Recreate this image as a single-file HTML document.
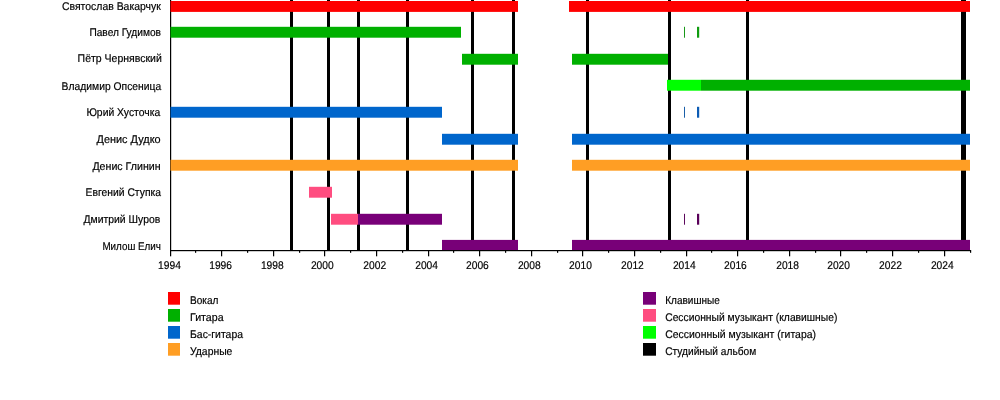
<!DOCTYPE html>
<html lang="ru"><head><meta charset="utf-8"><title>Timeline</title>
<style>html,body{margin:0;padding:0;background:#fff}body{width:1000px;height:400px;overflow:hidden}svg{display:block}text{stroke:#000;stroke-width:0.18px;text-rendering:geometricPrecision;font-family:"Liberation Sans",Arial,Helvetica,sans-serif;fill:#000}</style></head><body>
<svg width="1000" height="400" viewBox="0 0 1000 400">
<rect width="1000" height="400" fill="#fff"/>
<g fill="#000">
<rect x="290" y="0" width="3" height="250.5"/>
<rect x="327" y="0" width="3" height="250.5"/>
<rect x="357" y="0" width="3" height="250.5"/>
<rect x="406" y="0" width="3" height="250.5"/>
<rect x="471" y="0" width="3" height="250.5"/>
<rect x="512" y="0" width="3" height="250.5"/>
<rect x="586" y="0" width="3" height="250.5"/>
<rect x="668" y="0" width="3" height="250.5"/>
<rect x="746" y="0" width="3" height="250.5"/>
<rect x="961" y="0" width="5" height="250.5"/>
<rect x="170" y="0" width="1.2" height="251"/>
</g>
<rect x="170.5" y="1.00" width="347.5" height="10.9" fill="#ff0000"/>
<rect x="569" y="1.00" width="401" height="10.9" fill="#ff0000"/>
<rect x="170.5" y="26.80" width="290.5" height="10.9" fill="#00b000"/>
<rect x="462" y="53.80" width="56" height="10.9" fill="#00b000"/>
<rect x="572" y="53.80" width="96" height="10.9" fill="#00b000"/>
<rect x="667" y="79.80" width="34" height="10.9" fill="#00ff00"/>
<rect x="701" y="79.80" width="269" height="10.9" fill="#00b000"/>
<rect x="170.5" y="106.80" width="271.5" height="10.9" fill="#0066cc"/>
<rect x="442" y="133.80" width="76" height="10.9" fill="#0066cc"/>
<rect x="572" y="133.80" width="398" height="10.9" fill="#0066cc"/>
<rect x="170.5" y="159.80" width="347.5" height="10.9" fill="#ff9e24"/>
<rect x="572" y="159.80" width="398" height="10.9" fill="#ff9e24"/>
<rect x="309" y="186.80" width="23" height="10.9" fill="#ff4d80"/>
<rect x="331" y="213.80" width="27" height="10.9" fill="#ff4d80"/>
<rect x="358" y="213.80" width="84" height="10.9" fill="#780078"/>
<rect x="442" y="239.90" width="76" height="10.9" fill="#780078"/>
<rect x="572" y="239.90" width="398" height="10.9" fill="#780078"/>
<rect x="684" y="26.80" width="1" height="10.9" fill="#189818"/>
<rect x="697" y="26.80" width="2.2" height="10.9" fill="#109c10"/>
<rect x="684" y="106.80" width="1" height="10.9" fill="#1a5fa8"/>
<rect x="697" y="106.80" width="2.2" height="10.9" fill="#0c5cb4"/>
<rect x="684" y="213.80" width="1" height="10.9" fill="#5c085c"/>
<rect x="697" y="213.80" width="2.2" height="10.9" fill="#5a005a"/>
<g fill="#000">
<rect x="170" y="250" width="801" height="1.2"/>
<rect x="170.00" y="250" width="1.2" height="6.3"/>
<rect x="195.00" y="250" width="1.2" height="2.8"/>
<rect x="221.00" y="250" width="1.2" height="6.3"/>
<rect x="247.00" y="250" width="1.2" height="2.8"/>
<rect x="273.00" y="250" width="1.2" height="6.3"/>
<rect x="299.00" y="250" width="1.2" height="2.8"/>
<rect x="324.00" y="250" width="1.2" height="6.3"/>
<rect x="350.00" y="250" width="1.2" height="2.8"/>
<rect x="376.00" y="250" width="1.2" height="6.3"/>
<rect x="402.00" y="250" width="1.2" height="2.8"/>
<rect x="428.00" y="250" width="1.2" height="6.3"/>
<rect x="453.00" y="250" width="1.2" height="2.8"/>
<rect x="479.00" y="250" width="1.2" height="6.3"/>
<rect x="505.00" y="250" width="1.2" height="2.8"/>
<rect x="531.00" y="250" width="1.2" height="6.3"/>
<rect x="557.00" y="250" width="1.2" height="2.8"/>
<rect x="582.00" y="250" width="1.2" height="6.3"/>
<rect x="608.00" y="250" width="1.2" height="2.8"/>
<rect x="634.00" y="250" width="1.2" height="6.3"/>
<rect x="660.00" y="250" width="1.2" height="2.8"/>
<rect x="686.00" y="250" width="1.2" height="6.3"/>
<rect x="711.00" y="250" width="1.2" height="2.8"/>
<rect x="737.00" y="250" width="1.2" height="6.3"/>
<rect x="763.00" y="250" width="1.2" height="2.8"/>
<rect x="789.00" y="250" width="1.2" height="6.3"/>
<rect x="815.00" y="250" width="1.2" height="2.8"/>
<rect x="840.00" y="250" width="1.2" height="6.3"/>
<rect x="866.00" y="250" width="1.2" height="2.8"/>
<rect x="892.00" y="250" width="1.2" height="6.3"/>
<rect x="918.00" y="250" width="1.2" height="2.8"/>
<rect x="944.00" y="250" width="1.2" height="6.3"/>
<rect x="970.00" y="250" width="1.2" height="2.8"/>
</g>
<g font-size="11.2">
<text x="62.0" y="10.10" textLength="98.8" lengthAdjust="spacingAndGlyphs">Святослав Вакарчук</text>
<text x="89.4" y="36.10" textLength="71.6" lengthAdjust="spacingAndGlyphs">Павел Гудимов</text>
<text x="77.6" y="62.30" textLength="84.2" lengthAdjust="spacingAndGlyphs">Пётр Чернявский</text>
<text x="61.6" y="89.60" textLength="99.6" lengthAdjust="spacingAndGlyphs">Владимир Опсеница</text>
<text x="86.4" y="115.70" textLength="73.8" lengthAdjust="spacingAndGlyphs">Юрий Хусточка</text>
<text x="96.6" y="143.00" textLength="64.0" lengthAdjust="spacingAndGlyphs">Денис Дудко</text>
<text x="92.4" y="170.00" textLength="68.2" lengthAdjust="spacingAndGlyphs">Денис Глинин</text>
<text x="85.6" y="195.60" textLength="75.4" lengthAdjust="spacingAndGlyphs">Евгений Ступка</text>
<text x="83.6" y="222.50" textLength="76.6" lengthAdjust="spacingAndGlyphs">Дмитрий Шуров</text>
<text x="102.4" y="249.80" textLength="58.6" lengthAdjust="spacingAndGlyphs">Милош Елич</text>
</g>
<g font-size="11.2" text-anchor="middle" style="stroke-width:0.28px">
<text x="169.5" y="269" textLength="22.8" lengthAdjust="spacingAndGlyphs">1994</text>
<text x="220.6" y="269" textLength="22.8" lengthAdjust="spacingAndGlyphs">1996</text>
<text x="272.3" y="269" textLength="22.8" lengthAdjust="spacingAndGlyphs">1998</text>
<text x="322.3" y="269" textLength="22.8" lengthAdjust="spacingAndGlyphs">2000</text>
<text x="374.7" y="269" textLength="22.8" lengthAdjust="spacingAndGlyphs">2002</text>
<text x="426.6" y="269" textLength="22.8" lengthAdjust="spacingAndGlyphs">2004</text>
<text x="477.4" y="269" textLength="22.8" lengthAdjust="spacingAndGlyphs">2006</text>
<text x="529.3" y="269" textLength="22.8" lengthAdjust="spacingAndGlyphs">2008</text>
<text x="580.5" y="269" textLength="22.8" lengthAdjust="spacingAndGlyphs">2010</text>
<text x="632.4" y="269" textLength="22.8" lengthAdjust="spacingAndGlyphs">2012</text>
<text x="684.3" y="269" textLength="22.8" lengthAdjust="spacingAndGlyphs">2014</text>
<text x="735.4" y="269" textLength="22.8" lengthAdjust="spacingAndGlyphs">2016</text>
<text x="787.6" y="269" textLength="22.8" lengthAdjust="spacingAndGlyphs">2018</text>
<text x="838.6" y="269" textLength="22.8" lengthAdjust="spacingAndGlyphs">2020</text>
<text x="890.5" y="269" textLength="22.8" lengthAdjust="spacingAndGlyphs">2022</text>
<text x="942.3" y="269" textLength="22.8" lengthAdjust="spacingAndGlyphs">2024</text>
</g>
<g font-size="11.2">
<rect x="168" y="292" width="12" height="12.7" fill="#ff0000"/><text x="190" y="304" textLength="28.4" lengthAdjust="spacingAndGlyphs">Вокал</text>
<rect x="168" y="309" width="12" height="12.7" fill="#00b000"/><text x="190" y="321" textLength="33.6" lengthAdjust="spacingAndGlyphs">Гитара</text>
<rect x="168" y="326" width="12" height="12.7" fill="#0066cc"/><text x="190" y="338" textLength="53" lengthAdjust="spacingAndGlyphs">Бас-гитара</text>
<rect x="168" y="343" width="12" height="12.7" fill="#ff9e24"/><text x="190" y="355" textLength="42.4" lengthAdjust="spacingAndGlyphs">Ударные</text>
<rect x="643" y="292" width="13" height="12.7" fill="#780078"/><text x="665.2" y="304" textLength="54.6" lengthAdjust="spacingAndGlyphs">Клавишные</text>
<rect x="643" y="309" width="13" height="12.7" fill="#ff4d80"/><text x="665.2" y="321" textLength="172.2" lengthAdjust="spacingAndGlyphs">Сессионный музыкант (клавишные)</text>
<rect x="643" y="326" width="13" height="12.7" fill="#00ff00"/><text x="665.2" y="338" textLength="150.8" lengthAdjust="spacingAndGlyphs">Сессионный музыкант (гитара)</text>
<rect x="643" y="343" width="13" height="12.7" fill="#000"/><text x="665.2" y="355" textLength="91" lengthAdjust="spacingAndGlyphs">Студийный альбом</text>
</g>
</svg></body></html>
